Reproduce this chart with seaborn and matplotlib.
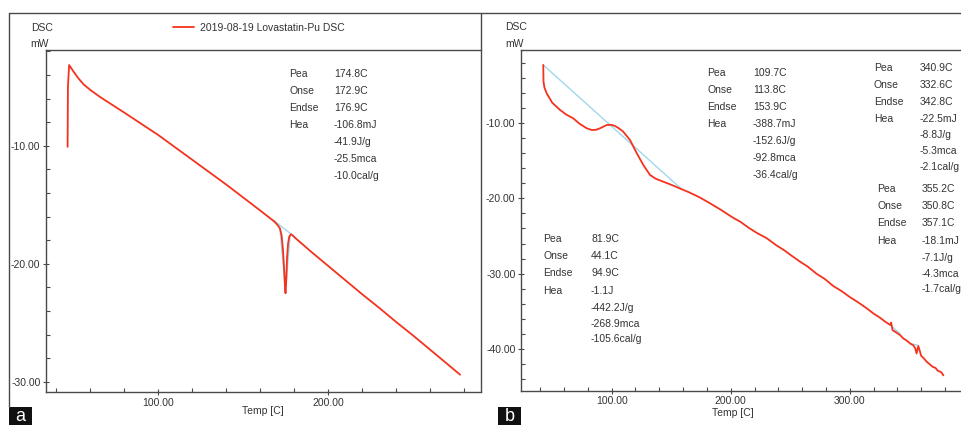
import matplotlib
matplotlib.use("Agg")
import numpy as np
import pandas as pd
import seaborn as sns
import matplotlib.pyplot as plt
from matplotlib.lines import Line2D
from matplotlib.patches import Rectangle
from matplotlib.ticker import MultipleLocator, FixedLocator

# ---------------- data ----------------
# Panel a : DSC curve (temperature C, heat flow mW)
temp_a = [46.6, 46.8, 47.5, 50, 53, 56, 60, 65, 70, 80, 90, 100, 110, 120, 130, 140,
          150, 160, 168, 170, 171.5, 172.5, 173.3, 174.0, 174.5, 174.8, 175.2, 175.7,
          176.3, 177.0, 178.0, 179.0, 180.4, 190, 200, 210, 220, 230, 240, 250, 260,
          270, 277.5]
dsc_a = [-10.1, -5.0, -3.16, -3.7, -4.3, -4.8, -5.28, -5.8, -6.27, -7.2, -8.15, -9.1,
         -10.15, -11.2, -12.25, -13.3, -14.4, -15.5, -16.4, -16.7, -17.0, -17.6, -18.8,
         -20.5, -22.0, -22.5, -21.5, -19.5, -18.3, -17.7, -17.5, -17.6, -17.8, -19.0,
         -20.2, -21.4, -22.6, -23.75, -24.95, -26.1, -27.3, -28.5, -29.4]
base_a_t = [167.6, 180.4]
base_a_v = [-16.3, -17.75]
tan_a_t = [171.5, 174.8, 177.5]
tan_a_v = [-17.0, -22.3, -17.6]

# Panel b : DSC curve
temp_b = [42.5, 42.7, 43.5, 45.4, 50, 56.6, 62, 67.7, 73, 79, 83.2, 87, 90.2, 95.8,
          100, 102.8, 106, 109.7, 115.4, 121, 126.6, 132.2, 137, 143.4, 150, 157.4, 165,
          174.2, 183, 191, 202.2, 208, 215, 222, 230.3, 238, 245, 251, 258.2, 265, 272,
          279, 286.2, 293, 300, 307, 314.3, 320, 325, 330, 333.9, 334.8, 336, 339, 342.3,
          345, 348, 351, 353.4, 355.0, 356.2, 357.6, 358.6, 360, 362, 364.7, 367, 370,
          372, 374, 375.9, 377, 378.7]
dsc_b = [-2.3, -4.5, -5.3, -6.06, -7.3, -8.27, -8.9, -9.38, -10.1, -10.7, -10.93, -10.9,
         -10.7, -10.27, -10.25, -10.4, -10.7, -11.15, -12.26, -14.0, -15.58, -16.9, -17.4,
         -17.8, -18.2, -18.7, -19.2, -19.9, -20.7, -21.45, -22.6, -23.1, -23.9, -24.6,
         -25.3, -26.2, -26.9, -27.6, -28.4, -29.1, -30.0, -30.7, -31.65, -32.3, -33.1,
         -33.8, -34.6, -35.3, -35.8, -36.4, -36.8, -36.5, -37.5, -37.8, -38.15, -38.6,
         -38.9, -39.3, -39.5, -39.9, -40.6, -39.6, -40.1, -40.9, -41.2, -41.7, -42.0,
         -42.4, -42.5, -42.9, -43.0, -43.1, -43.5]
base_b_t = [42.5, 158.5]
base_b_v = [-2.3, -18.75]
base_b2_t = [333.9, 342.3]
base_b2_v = [-36.8, -38.0]
base_b3_t = [351.0, 357.1]
base_b3_v = [-39.3, -39.5]

legend_label = "2019-08-19 Lovastatin-Pu DSC"

ann_labels = ["Pea", "Onse", "Endse", "Hea"]
ann_a = ["174.8C", "172.9C", "176.9C", "-106.8mJ", "-41.9J/g", "-25.5mca", "-10.0cal/g"]
ann_b1 = ["109.7C", "113.8C", "153.9C", "-388.7mJ", "-152.6J/g", "-92.8mca", "-36.4cal/g"]
ann_b2 = ["340.9C", "332.6C", "342.8C", "-22.5mJ", "-8.8J/g", "-5.3mca", "-2.1cal/g"]
ann_b3 = ["355.2C", "350.8C", "357.1C", "-18.1mJ", "-7.1J/g", "-4.3mca", "-1.7cal/g"]
ann_b4 = ["81.9C", "44.1C", "94.9C", "-1.1J", "-442.2J/g", "-268.9mca", "-105.6cal/g"]

# ---------------- style ----------------
sns.set_theme(style="white")
plt.rcParams["font.family"] = ["Liberation Sans", "DejaVu Sans"]
FS = 7.5
RED = "#f4321e"
BLUE = "#9fd8ea"
GRAY = "#4a4a4a"
TXT = "#333333"

W, H = 961, 425
fig = plt.figure(figsize=(W / 100, H / 100), dpi=100)
fig.patch.set_facecolor("white")


def px_axes(l, t, r, b):
    return fig.add_axes([l / W, 1 - b / H, (r - l) / W, (b - t) / H])


def ftext(x, y, s, **kw):
    kw.setdefault("fontsize", FS)
    kw.setdefault("color", TXT)
    kw.setdefault("va", "center")
    fig.text(x / W, 1 - y / H, s, **kw)


def fline(x0, y0, x1, y1, **kw):
    fig.add_artist(Line2D([x0 / W, x1 / W], [1 - y0 / H, 1 - y1 / H],
                          transform=fig.transFigure, color=GRAY, lw=1.0, **kw))


def style_axes(ax, xmaj, ymaj, xlim, ylim):
    ax.set_xlim(*xlim)
    ax.set_ylim(*ylim)
    ax.xaxis.set_major_locator(FixedLocator(xmaj))
    ax.yaxis.set_major_locator(FixedLocator(ymaj))
    ax.xaxis.set_minor_locator(MultipleLocator(20))
    ax.yaxis.set_minor_locator(MultipleLocator(2))
    ax.set_xticklabels([f"{v:.2f}" for v in xmaj])
    ax.set_yticklabels([f"{v:.2f}" for v in ymaj])
    ax.tick_params(which="major", direction="inout", length=5, width=0.8,
                   color=GRAY, labelsize=FS, labelcolor=TXT, pad=1.5)
    ax.tick_params(which="minor", direction="in", length=3, width=0.8, color=GRAY)
    ax.tick_params(axis="x", which="both", bottom=True, top=False)
    ax.tick_params(axis="y", which="both", left=True, right=False)
    for s in ["left", "bottom", "top"]:
        ax.spines[s].set_color(GRAY)
        ax.spines[s].set_linewidth(1.0)
        ax.spines[s].set_visible(True)
    ax.spines["right"].set_visible(False)
    ax.set_xlabel("")
    ax.set_ylabel("")
    ax.set_facecolor("white")


# ---------------- panel a ----------------
ax_a = px_axes(46, 50, 481, 392)
sns.lineplot(x=base_a_t, y=base_a_v, ax=ax_a, color=BLUE, lw=1.0, sort=False, estimator=None)
sns.lineplot(x=tan_a_t, y=tan_a_v, ax=ax_a, color=BLUE, lw=1.0, sort=False, estimator=None)
df_a = pd.DataFrame({"T": temp_a, "DSC": dsc_a})
sns.lineplot(data=df_a, x="T", y="DSC", ax=ax_a, color=RED, lw=1.3, sort=False,
             estimator=None, label=legend_label)
style_axes(ax_a, [100, 200], [-10, -20, -30], (33.9, 289.8), (-30.87, -1.89))
handles, labels = ax_a.get_legend_handles_labels()
ax_a.get_legend().remove()
fig.legend(handles, labels, loc="center left", bbox_to_anchor=(173 / W, 1 - 28 / H),
           frameon=False, fontsize=FS, handlelength=2.0, handletextpad=0.6,
           borderpad=0, borderaxespad=0, labelcolor=TXT)

ftext(31, 28, "DSC")
ftext(30, 44, "mW")
ftext(263, 411, "Temp [C]", ha="center")

rows_a = [74, 91, 108, 125, 142, 159, 176]
for i, s in enumerate(ann_labels):
    ftext(289, rows_a[i], s)
for i, s in enumerate(ann_a):
    ftext(334, rows_a[i], s)

# ---------------- panel b ----------------
ax_b = px_axes(521, 50, 961, 390.7)
sns.lineplot(x=base_b_t, y=base_b_v, ax=ax_b, color=BLUE, lw=1.0, sort=False, estimator=None)
sns.lineplot(x=base_b2_t, y=base_b2_v, ax=ax_b, color=BLUE, lw=1.0, sort=False, estimator=None)
sns.lineplot(x=base_b3_t, y=base_b3_v, ax=ax_b, color=BLUE, lw=1.0, sort=False, estimator=None)
df_b = pd.DataFrame({"T": temp_b, "DSC": dsc_b})
sns.lineplot(data=df_b, x="T", y="DSC", ax=ax_b, color=RED, lw=1.3, sort=False,
             estimator=None)
style_axes(ax_b, [100, 200, 300], [-10, -20, -30, -40], (23.8, 393.5), (-45.54, -0.31))

ftext(505, 27, "DSC")
ftext(505, 44, "mW")
ftext(733, 413, "Temp [C]", ha="center")

rows_b1 = [73, 90, 107, 124, 141, 158, 175]
for i, s in enumerate(ann_labels):
    ftext(707, rows_b1[i], s)
for i, s in enumerate(ann_b1):
    ftext(753, rows_b1[i], s)

rows_b2 = [68, 85, 102, 119, 135, 151, 167]
for i, s in enumerate(ann_labels):
    ftext(874, rows_b2[i], s)
for i, s in enumerate(ann_b2):
    ftext(920, rows_b2[i], s)

rows_b3 = [189, 206, 223, 241, 258, 274, 289]
for i, s in enumerate(ann_labels):
    ftext(877, rows_b3[i], s)
for i, s in enumerate(ann_b3):
    ftext(922, rows_b3[i], s)

rows_b4 = [239, 256, 273, 291, 308, 324, 339]
for i, s in enumerate(ann_labels):
    ftext(543, rows_b4[i], s)
for i, s in enumerate(ann_b4):
    ftext(591, rows_b4[i], s)

# ---------------- frames & panel letters ----------------
fline(9, 13, 961, 13)
fline(9, 13, 9, 407)
fline(481, 13, 481, 392)

for x0, letter in [(9, "a"), (498, "b")]:
    fig.add_artist(Rectangle((x0 / W, 0), 23 / W, 18.5 / H, transform=fig.transFigure,
                             facecolor="#111111", edgecolor="none"))
    fig.text((x0 + 11.5) / W, 8.5 / H, letter, color="white", fontsize=13,
             ha="center", va="center")

fig.savefig("out.png", dpi=100, facecolor="white")
